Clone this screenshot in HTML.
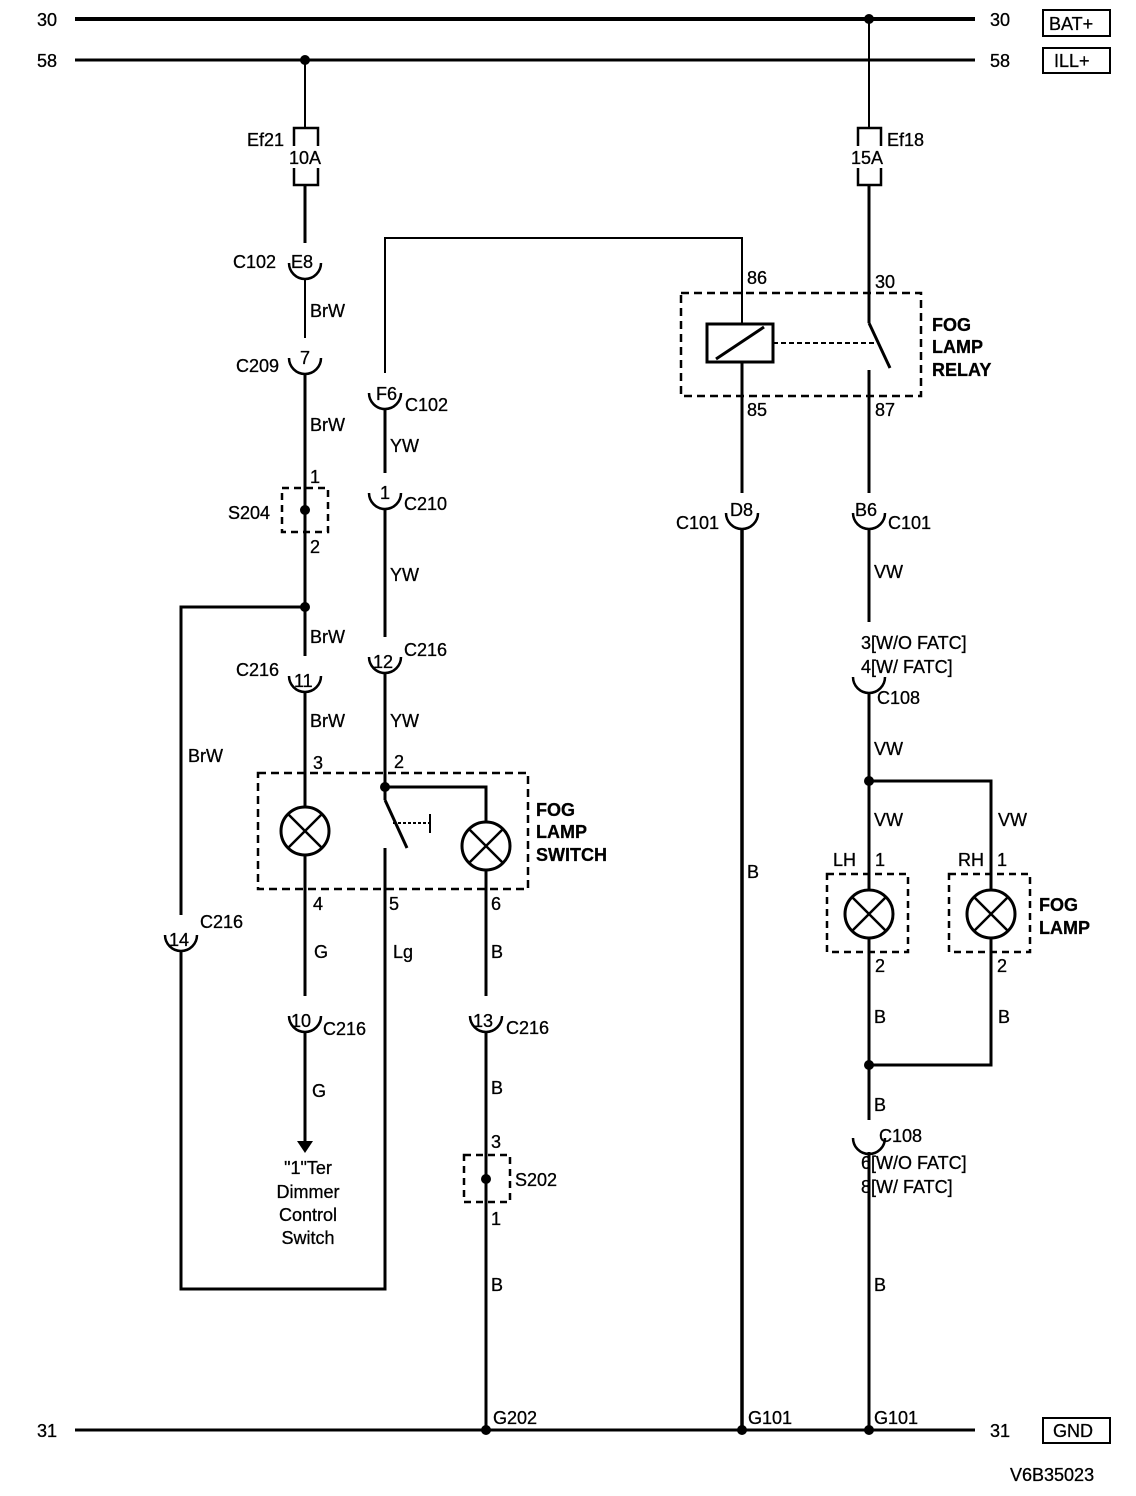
<!DOCTYPE html>
<html><head><meta charset="utf-8"><style>
html,body{margin:0;padding:0;background:#fff}
svg{display:block}
text{font-family:"Liberation Sans",Arial,sans-serif;font-size:18px;fill:#000;stroke:#000;stroke-width:0.3}
.b{font-weight:bold}
</style></head><body>
<svg width="1136" height="1496" viewBox="0 0 1136 1496" xmlns="http://www.w3.org/2000/svg">
<g stroke="#000" fill="none" stroke-linecap="butt">
<line x1="75" y1="19" x2="975" y2="19" stroke-width="4"/>
<line x1="75" y1="60" x2="975" y2="60" stroke-width="3"/>
<line x1="75" y1="1430" x2="975" y2="1430" stroke-width="3"/>
<rect x="1043" y="10" width="67" height="26" stroke-width="2"/>
<rect x="1043" y="48" width="67" height="25" stroke-width="2"/>
<rect x="1043" y="1418" width="67" height="25" stroke-width="2"/>

<line x1="305" y1="60" x2="305" y2="128" stroke-width="2"/>
<path d="M294 146 V128 H318 V146 M294 168 V185 H318 V168" stroke-width="2.5"/>
<line x1="305" y1="185" x2="305" y2="243" stroke-width="3"/>
<line x1="305" y1="278" x2="305" y2="338" stroke-width="2"/>
<line x1="305" y1="373" x2="305" y2="656" stroke-width="3"/>
<line x1="305" y1="691" x2="305" y2="807" stroke-width="3"/>
<line x1="305" y1="855" x2="305" y2="996" stroke-width="3"/>
<line x1="305" y1="1031" x2="305" y2="1142" stroke-width="3"/>
<polygon points="297,1141 313,1141 305,1153" fill="#000" stroke="none"/>
<rect x="282" y="488" width="46" height="44" stroke-width="2.5" stroke-dasharray="7,5"/>
<path d="M305 607 H181 V915 M181 950 V1289 H385 V848" stroke-width="3"/>

<path d="M742 271 V238 H385 V373" stroke-width="2"/>
<line x1="385" y1="408" x2="385" y2="473" stroke-width="3"/>
<line x1="385" y1="508" x2="385" y2="637" stroke-width="3"/>
<line x1="385" y1="672" x2="385" y2="800" stroke-width="3"/>
<path d="M385 787 H486 V822" stroke-width="3"/>
<line x1="385" y1="800" x2="407" y2="848" stroke-width="3"/>
<line x1="393" y1="823" x2="430" y2="823" stroke-width="2" stroke-dasharray="3,2"/>
<line x1="430" y1="814" x2="430" y2="833" stroke-width="2"/>
<rect x="258" y="773" width="270" height="116" stroke-width="2.5" stroke-dasharray="8,5"/>
<circle cx="305" cy="831" r="24" stroke-width="3"/>
<path d="M288 814 L322 848 M322 814 L288 848" stroke-width="2.5"/>
<circle cx="486" cy="846" r="24" stroke-width="3"/>
<path d="M469 829 L503 863 M503 829 L469 863" stroke-width="2.5"/>
<line x1="486" y1="870" x2="486" y2="996" stroke-width="3"/>
<line x1="486" y1="1031" x2="486" y2="1430" stroke-width="3"/>
<rect x="464" y="1155" width="46" height="47" stroke-width="2.5" stroke-dasharray="7,5"/>

<line x1="742" y1="238" x2="742" y2="324" stroke-width="2"/>
<rect x="681" y="293" width="240" height="103" stroke-width="2.5" stroke-dasharray="8,5"/>
<rect x="707" y="324" width="66" height="38" stroke-width="3"/>
<line x1="716" y1="359" x2="764" y2="327" stroke-width="3"/>
<line x1="773" y1="343" x2="877" y2="343" stroke-width="2" stroke-dasharray="5,3"/>
<line x1="742" y1="362" x2="742" y2="493" stroke-width="3"/>
<line x1="742" y1="528" x2="742" y2="1430" stroke-width="3.5"/>

<line x1="869" y1="19" x2="869" y2="128" stroke-width="2"/>
<path d="M858 146 V128 H881 V146 M858 168 V185 H881 V168" stroke-width="2.5"/>
<line x1="869" y1="185" x2="869" y2="323" stroke-width="3"/>
<line x1="869" y1="323" x2="890" y2="368" stroke-width="3"/>
<line x1="869" y1="370" x2="869" y2="493" stroke-width="3"/>
<line x1="869" y1="528" x2="869" y2="622" stroke-width="3"/>
<line x1="869" y1="692" x2="869" y2="890" stroke-width="3"/>
<path d="M869 781 H991 V890" stroke-width="3"/>
<rect x="827" y="874" width="81" height="78" stroke-width="2.5" stroke-dasharray="7,5"/>
<rect x="949" y="874" width="81" height="78" stroke-width="2.5" stroke-dasharray="7,5"/>
<circle cx="869" cy="914" r="24" stroke-width="3"/>
<path d="M852 897 L886 931 M886 897 L852 931" stroke-width="2.5"/>
<circle cx="991" cy="914" r="24" stroke-width="3"/>
<path d="M974 897 L1008 931 M1008 897 L974 931" stroke-width="2.5"/>
<line x1="869" y1="938" x2="869" y2="1120" stroke-width="3"/>
<path d="M869 1065 H991 V938" stroke-width="3"/>
<line x1="869" y1="1152" x2="869" y2="1430" stroke-width="3"/>

<path d="M289 263 A16 16 0 0 0 321 263" stroke-width="2.5"/>
<path d="M289 358 A16 16 0 0 0 321 358" stroke-width="2.5"/>
<path d="M369 393 A16 16 0 0 0 401 393" stroke-width="2.5"/>
<path d="M369 493 A16 16 0 0 0 401 493" stroke-width="2.5"/>
<path d="M289 676 A16 16 0 0 0 321 676" stroke-width="2.5"/>
<path d="M369 657 A16 16 0 0 0 401 657" stroke-width="2.5"/>
<path d="M165 935 A16 16 0 0 0 197 935" stroke-width="2.5"/>
<path d="M289 1016 A16 16 0 0 0 321 1016" stroke-width="2.5"/>
<path d="M470 1016 A16 16 0 0 0 502 1016" stroke-width="2.5"/>
<path d="M726 513 A16 16 0 0 0 758 513" stroke-width="2.5"/>
<path d="M853 513 A16 16 0 0 0 885 513" stroke-width="2.5"/>
<path d="M853 677 A16 16 0 0 0 885 677" stroke-width="2.5"/>
<path d="M853 1138 A16 16 0 0 0 885 1138" stroke-width="2.5"/>
</g>
<g fill="#000">
<circle cx="869" cy="19" r="5"/><circle cx="305" cy="60" r="5"/>
<circle cx="305" cy="510" r="5"/><circle cx="305" cy="607" r="5"/>
<circle cx="385" cy="787" r="5"/><circle cx="486" cy="1179" r="5"/>
<circle cx="486" cy="1430" r="5"/><circle cx="742" cy="1430" r="5"/>
<circle cx="869" cy="1430" r="5"/><circle cx="869" cy="781" r="5"/>
<circle cx="869" cy="1065" r="5"/>
</g>
<g>
<text x="37" y="26">30</text><text x="37" y="67">58</text><text x="37" y="1437">31</text>
<text x="990" y="26">30</text><text x="990" y="67">58</text><text x="990" y="1437">31</text>
<text x="1049" y="30">BAT+</text><text x="1054" y="67">ILL+</text><text x="1053" y="1437">GND</text>
<text x="247" y="146">Ef21</text><text x="289" y="164">10A</text>
<text x="887" y="146">Ef18</text><text x="851" y="164">15A</text>
<text x="233" y="268">C102</text><text x="291" y="268">E8</text>
<text x="310" y="317">BrW</text>
<text x="236" y="372">C209</text><text x="300" y="364">7</text>
<text x="310" y="431">BrW</text>
<text x="310" y="483">1</text><text x="228" y="519">S204</text><text x="310" y="553">2</text>
<text x="310" y="643">BrW</text>
<text x="236" y="676">C216</text><text x="294" y="687">11</text>
<text x="310" y="727">BrW</text>
<text x="188" y="762">BrW</text>
<text x="313" y="769">3</text><text x="394" y="768">2</text>
<text x="376" y="400">F6</text><text x="405" y="411">C102</text>
<text x="390" y="452">YW</text>
<text x="380" y="499">1</text><text x="404" y="510">C210</text>
<text x="390" y="581">YW</text>
<text x="373" y="668">12</text><text x="404" y="656">C216</text>
<text x="390" y="727">YW</text>
<text x="536" y="816" class="b">FOG</text><text x="536" y="838" class="b">LAMP</text><text x="536" y="861" class="b">SWITCH</text>
<text x="313" y="910">4</text><text x="389" y="910">5</text><text x="491" y="910">6</text>
<text x="169" y="946">14</text><text x="200" y="928">C216</text>
<text x="314" y="958">G</text><text x="393" y="958">Lg</text><text x="491" y="958">B</text>
<text x="291" y="1027">10</text><text x="323" y="1035">C216</text>
<text x="473" y="1027">13</text><text x="506" y="1034">C216</text>
<text x="312" y="1097">G</text><text x="491" y="1094">B</text>
<text x="491" y="1148">3</text><text x="515" y="1186">S202</text><text x="491" y="1225">1</text>
<text x="491" y="1291">B</text>
<text x="308" y="1174" text-anchor="middle">"1"Ter</text>
<text x="308" y="1198" text-anchor="middle">Dimmer</text>
<text x="308" y="1221" text-anchor="middle">Control</text>
<text x="308" y="1244" text-anchor="middle">Switch</text>
<text x="493" y="1424">G202</text>
<text x="747" y="284">86</text><text x="875" y="288">30</text>
<text x="747" y="416">85</text><text x="875" y="416">87</text>
<text x="932" y="331" class="b">FOG</text><text x="932" y="353" class="b">LAMP</text><text x="932" y="376" class="b">RELAY</text>
<text x="676" y="529">C101</text><text x="730" y="516">D8</text>
<text x="855" y="516">B6</text><text x="888" y="529">C101</text>
<text x="747" y="878">B</text>
<text x="748" y="1424">G101</text>
<text x="874" y="578">VW</text>
<text x="861" y="649">3[W/O FATC]</text><text x="861" y="673">4[W/ FATC]</text>
<text x="877" y="704">C108</text>
<text x="874" y="755">VW</text>
<text x="874" y="826">VW</text><text x="998" y="826">VW</text>
<text x="833" y="866">LH</text><text x="875" y="866">1</text>
<text x="958" y="866">RH</text><text x="997" y="866">1</text>
<text x="1039" y="911" class="b">FOG</text><text x="1039" y="934" class="b">LAMP</text>
<text x="875" y="972">2</text><text x="997" y="972">2</text>
<text x="874" y="1023">B</text><text x="998" y="1023">B</text>
<text x="874" y="1111">B</text>
<text x="879" y="1142">C108</text>
<text x="861" y="1169">6[W/O FATC]</text><text x="861" y="1193">8[W/ FATC]</text>
<text x="874" y="1291">B</text>
<text x="874" y="1424">G101</text>
<text x="1010" y="1481">V6B35023</text>
</g>
</svg>
</body></html>
